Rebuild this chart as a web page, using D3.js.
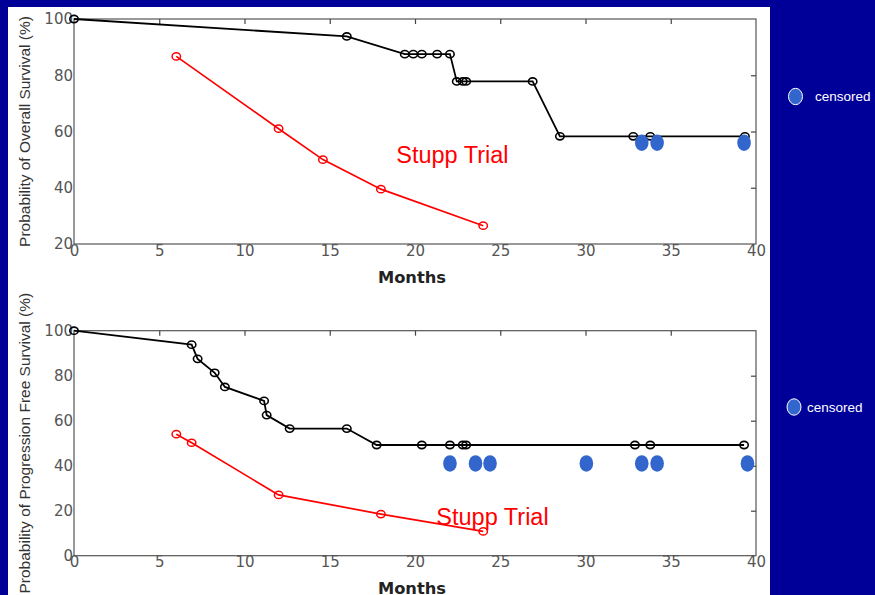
<!DOCTYPE html>
<html>
<head>
<meta charset="utf-8">
<script src="https://cdn.jsdelivr.net/npm/d3@7"></script>
<style>
  html, body { margin: 0; padding: 0; background: #000099; }
  #screen { width: 875px; height: 595px; }
</style>
</head>
<body>
<div id="screen"></div>
<script>
// Overall survival (top panel)
const osMonths = [0, 16, 19.4, 19.9, 20.4, 21.3, 22.05, 22.45, 22.8, 23, 26.9, 28.5, 32.8, 33.8, 39.35]
const osValues = [100, 93.8, 87.5, 87.5, 87.5, 87.5, 87.5, 77.8, 77.8, 77.8, 77.8, 58.3, 58.3, 58.3, 58.3]
const osCensMonths = [33.3, 34.2, 39.3]
const osCensValues = [56, 56, 56]
const osStuppMonths = [6, 12, 14.6, 18, 24]
const osStuppValues = [86.7, 61, 50, 39.5, 26.5]

// Progression free survival (bottom panel)
const pfsMonths = [0, 6.9, 7.25, 8.25, 8.85, 11.15, 11.3, 12.65, 16, 17.75, 20.4, 22.05, 22.8, 23, 32.9, 33.8, 39.3]
const pfsValues = [100, 93.8, 87.5, 81.3, 75, 68.8, 62.5, 56.5, 56.5, 49.2, 49.2, 49.2, 49.2, 49.2, 49.2, 49.2, 49.2]
const pfsCensMonths = [22.05, 23.55, 24.4, 30.05, 33.3, 34.2, 39.5]
const pfsCensValues = [41, 41, 41, 41, 41, 41, 41]
const pfsStuppMonths = [6, 6.9, 12, 18, 24]
const pfsStuppValues = [54, 50.2, 27, 18.5, 10.8]

const xTicks = [0, 5, 10, 15, 20, 25, 30, 35, 40]
const osYTicks = [20, 40, 60, 80, 100]
const pfsYTicks = [0, 20, 40, 60, 80, 100]

const width = 875
const height = 595

const svg = d3.select('#screen').append('svg')
  .attr('width', width)
  .attr('height', height)

svg.append('rect').attr('width', width).attr('height', height).attr('fill', '#000099')
svg.append('rect').attr('x', 8).attr('y', 7).attr('width', 762).attr('height', 600).attr('fill', '#ffffff')

function drawPanel (cfg) {
  const x = d3.scaleLinear().domain([0, 40]).range([74, 756])
  const y = d3.scaleLinear().domain(cfg.yDomain).range([cfg.bottom, cfg.top])
  const g = svg.append('g')

  // box
  g.append('rect')
    .attr('x', x(0)).attr('y', y(cfg.yDomain[1]))
    .attr('width', x(40) - x(0)).attr('height', y(cfg.yDomain[0]) - y(cfg.yDomain[1]))
    .attr('fill', 'none').attr('stroke', '#555').attr('stroke-width', 1.2)

  // bottom axis labels
  const xb = g.append('g')
    .attr('transform', `translate(0,${cfg.bottom})`)
    .call(d3.axisBottom(x).tickValues(xTicks).tickSize(0).tickPadding(1))
  xb.select('.domain').remove()
  xb.selectAll('text').attr('font-family', "'DejaVu Sans', sans-serif").attr('font-size', '15px').attr('fill', '#555')

  // top inner ticks
  const xt = g.append('g')
    .attr('transform', `translate(0,${cfg.top})`)
    .call(d3.axisTop(x).tickValues(xTicks.slice(1, -1)).tickSize(-5).tickFormat(''))
  xt.select('.domain').remove()
  xt.selectAll('line').attr('stroke', '#444').attr('stroke-width', 1.2)

  // left axis labels
  const yl = g.append('g')
    .attr('transform', `translate(${x(0)},0)`)
    .call(d3.axisLeft(y).tickValues(cfg.yTicks).tickSize(0).tickPadding(1))
  yl.select('.domain').remove()
  yl.selectAll('text').attr('font-family', "'DejaVu Sans', sans-serif").attr('font-size', '15px').attr('fill', '#555')

  // right inner ticks
  const yr = g.append('g')
    .attr('transform', `translate(${x(40)},0)`)
    .call(d3.axisRight(y).tickValues(cfg.yTicks.slice(1, -1)).tickSize(-5).tickFormat(''))
  yr.select('.domain').remove()
  yr.selectAll('line').attr('stroke', '#444').attr('stroke-width', 1.2)

  // axis titles
  g.append('text')
    .attr('x', (x(0) + x(40)) / 2 - 3)
    .attr('y', cfg.bottom + 38.5)
    .attr('text-anchor', 'middle')
    .attr('font-family', "'DejaVu Sans', sans-serif")
    .attr('font-size', '16.3px')
    .attr('font-weight', 'bold')
    .attr('fill', '#222')
    .text('Months')

  g.append('text')
    .attr('transform', `translate(30,${(cfg.top + cfg.bottom) / 2}) rotate(-90)`)
    .attr('text-anchor', 'middle')
    .attr('font-family', "'Liberation Sans', Arial, sans-serif")
    .attr('font-size', '15.5px')
    .attr('fill', '#333')
    .text(cfg.yLabel)

  const line = d3.line().x(d => x(d[0])).y(d => y(d[1]))

  // Stupp trial curve
  const stupp = d3.zip(cfg.stuppMonths, cfg.stuppValues)
  g.append('path').datum(stupp)
    .attr('d', line).attr('fill', 'none').attr('stroke', '#ff0000').attr('stroke-width', 1.7)
  g.selectAll('.stupp-pt').data(stupp).join('ellipse')
    .attr('class', 'stupp-pt')
    .attr('cx', d => x(d[0])).attr('cy', d => y(d[1]))
    .attr('rx', 4.2).attr('ry', 3.6)
    .attr('fill', 'none').attr('stroke', '#ff0000').attr('stroke-width', 1.5)

  // KM curve
  const km = d3.zip(cfg.months, cfg.values)
  g.append('path').datum(km)
    .attr('d', line).attr('fill', 'none').attr('stroke', '#000').attr('stroke-width', 1.8)
  g.selectAll('.km-pt').data(km).join('ellipse')
    .attr('class', 'km-pt')
    .attr('cx', d => x(d[0])).attr('cy', d => y(d[1]))
    .attr('rx', 4.2).attr('ry', 3.6)
    .attr('fill', 'none').attr('stroke', '#000').attr('stroke-width', 1.6)

  // censored marks
  g.selectAll('.cens').data(d3.zip(cfg.censMonths, cfg.censValues)).join('ellipse')
    .attr('class', 'cens')
    .attr('cx', d => x(d[0])).attr('cy', d => y(d[1]))
    .attr('rx', 6.8).attr('ry', 8.3)
    .attr('fill', '#3366cc')

  g.append('text')
    .attr('x', x(cfg.stuppLabel[0])).attr('y', y(cfg.stuppLabel[1]))
    .attr('font-family', "'Liberation Sans', Arial, sans-serif")
    .attr('font-size', '23.5px')
    .attr('fill', '#ff0000')
    .text('Stupp Trial')

  // legend
  svg.append('ellipse')
    .attr('cx', cfg.legend[0]).attr('cy', cfg.legend[1])
    .attr('rx', 7).attr('ry', 8.2)
    .attr('fill', '#3366cc').attr('stroke', '#ffffff').attr('stroke-width', 1)
  svg.append('text')
    .attr('x', cfg.legend[2]).attr('y', cfg.legend[1] + 4.5)
    .attr('font-family', "'Liberation Sans', Arial, sans-serif")
    .attr('font-size', '13.5px')
    .attr('fill', '#ffffff')
    .text('censored')
}

drawPanel({
  yDomain: [20, 100], top: 19, bottom: 244, yTicks: osYTicks,
  yLabel: 'Probability of Overall Survival (%)',
  months: osMonths, values: osValues,
  censMonths: osCensMonths, censValues: osCensValues,
  stuppMonths: osStuppMonths, stuppValues: osStuppValues,
  stuppLabel: [18.9, 48.8],
  legend: [795.5, 96.5, 815]
})

drawPanel({
  yDomain: [0, 100], top: 330.7, bottom: 555.7, yTicks: pfsYTicks,
  yLabel: 'Probability of Progression Free Survival (%)',
  months: pfsMonths, values: pfsValues,
  censMonths: pfsCensMonths, censValues: pfsCensValues,
  stuppMonths: pfsStuppMonths, stuppValues: pfsStuppValues,
  stuppLabel: [21.25, 13.6],
  legend: [794, 407, 807]
})
</script>
</body>
</html>
